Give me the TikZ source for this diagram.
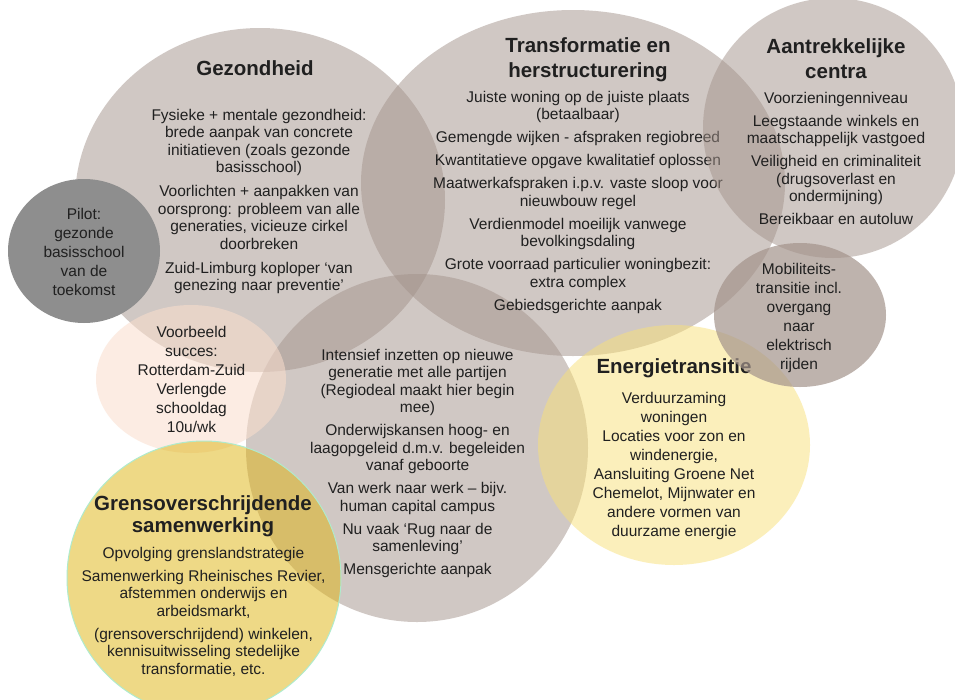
\documentclass[tikz,border=0pt]{standalone}
\usepackage{fontspec}
\setmainfont{Liberation Sans}
\usetikzlibrary{shapes.geometric}
\definecolor{beige}{RGB}{163,147,139}
\definecolor{pilotgray}{RGB}{142,142,142}
\definecolor{peach}{RGB}{250,222,205}
\definecolor{gold}{RGB}{222,180,15}
\definecolor{paleyellow}{RGB}{249,225,120}
\definecolor{mint}{RGB}{175,235,205}
\definecolor{ink}{RGB}{32,32,32}
\begin{document}
\begin{tikzpicture}[x=1pt,y=-1pt,
  blob/.style={ellipse, inner sep=0pt, draw=none},
  beigeblob/.style={blob, fill=beige, fill opacity=0.5},
  body/.style={align=center, inner sep=0pt, anchor=north, text=ink,
    font=\fontsize{15.5}{17.5}\selectfont},
  smallbody/.style={body, font=\fontsize{15.5}{19}\selectfont},
  head/.style={align=center, inner sep=0pt, anchor=north, text=ink,
    font=\bfseries\fontsize{20.5}{25}\selectfont}]
\useasboundingbox (0,0) rectangle (955,699);
\fill[white] (0,0) rectangle (955,699);
% circles (first layer)
\node[beigeblob, minimum width=370, minimum height=344] (gezC) at (260,200) {};
\node[beigeblob, minimum width=424, minimum height=346] (trC) at (573,183) {};
\node[beigeblob, minimum width=342, minimum height=348] (midC) at (417,448) {};
\node[blob, fill=paleyellow, fill opacity=0.5, minimum width=272, minimum height=240] (enC) at (674,445) {};
\node[blob, fill=pilotgray, minimum width=152, minimum height=144] (pilC) at (84,251) {};
\node[blob, fill=peach, fill opacity=0.55, minimum width=190, minimum height=148] (voC) at (191,379) {};
\node[blob, fill=gold, fill opacity=0.5, draw=mint, line width=1pt, minimum width=274, minimum height=274] (grC) at (204,578) {};
% texts (first layer)
\node[head] (gezH) at (255,60) {Gezondheid};
\node[body] (gezT) at (259,109) {Fysieke + mentale gezondheid:\\brede aanpak van concrete\\initiatieven (zoals gezonde\\basisschool)\\[6.5pt]
Voorlichten + aanpakken van\\oorsprong: probleem van alle\\generaties, vicieuze cirkel\\doorbreken\\[6.5pt]
Zuid-Limburg koploper ‘van\\genezing naar preventie’};
\node[head] (trH) at (588,37) {Transformatie en\\herstructurering};
\node[body] (trT) at (578,91) {Juiste woning op de juiste plaats\\(betaalbaar)\\[5.5pt]
Gemengde wijken - afspraken regiobreed\\[5.5pt]
Kwantitatieve opgave kwalitatief oplossen\\[5.5pt]
Maatwerkafspraken i.p.v. vaste sloop voor\\nieuwbouw regel\\[5.5pt]
Verdienmodel moeilijk vanwege\\bevolkingsdaling\\[5.5pt]
Grote voorraad particulier woningbezit:\\extra complex\\[5.5pt]
Gebiedsgerichte aanpak};
\node[body] (midT) at (417.5,349) {Intensief inzetten op nieuwe\\generatie met alle partijen\\(Regiodeal maakt hier begin\\mee)\\[5.5pt]
Onderwijskansen hoog- en\\laagopgeleid d.m.v. begeleiden\\vanaf geboorte\\[5.5pt]
Van werk naar werk – bijv.\\human capital campus\\[5.5pt]
Nu vaak ‘Rug naar de\\samenleving’\\[5.5pt]
Mensgerichte aanpak};
\node[smallbody] (pilT) at (84,208) {Pilot:\\gezonde\\basisschool\\van de\\toekomst};
\node[smallbody] (voT) at (191.5,326) {Voorbeeld\\succes:\\Rotterdam-Zuid\\Verlengde\\schooldag\\10u/wk};
\node[head, font=\bfseries\fontsize{20.5}{22}\selectfont] (grH) at (203,495) {Grensoverschrijdende\\samenwerking};
\node[body] (grT) at (203.5,547) {Opvolging grenslandstrategie\\[5.5pt]
Samenwerking Rheinisches Revier,\\afstemmen onderwijs en\\arbeidsmarkt,\\[5.5pt]
(grensoverschrijdend) winkelen,\\kennisuitwisseling stedelijke\\transformatie, etc.};
\node[head] (enH) at (674,358) {Energietransitie};
\node[smallbody] (enT) at (674,392) {Verduurzaming\\woningen\\Locaties voor zon en\\windenergie,\\Aansluiting Groene Net\\Chemelot, Mijnwater en\\andere vormen van\\duurzame energie};
% circles (second layer)
\node[beigeblob, minimum width=260, minimum height=260] (ceC) at (833,128) {};
\node[blob, fill=beige, fill opacity=0.7, minimum width=172, minimum height=144] (moC) at (800,315) {};
% texts (second layer)
\node[head] (ceH) at (836,38) {Aantrekkelijke\\centra};
\node[body] (ceT) at (836,92) {Voorzieningenniveau\\[5.5pt]
Leegstaande winkels en\\maatschappelijk vastgoed\\[5.5pt]
Veiligheid en criminaliteit\\(drugsoverlast en\\ondermijning)\\[5.5pt]
Bereikbaar en autoluw};
\node[smallbody] (moT) at (799,263) {Mobiliteits-\\transitie incl.\\overgang\\naar\\elektrisch\\rijden};
\end{tikzpicture}
\end{document}
